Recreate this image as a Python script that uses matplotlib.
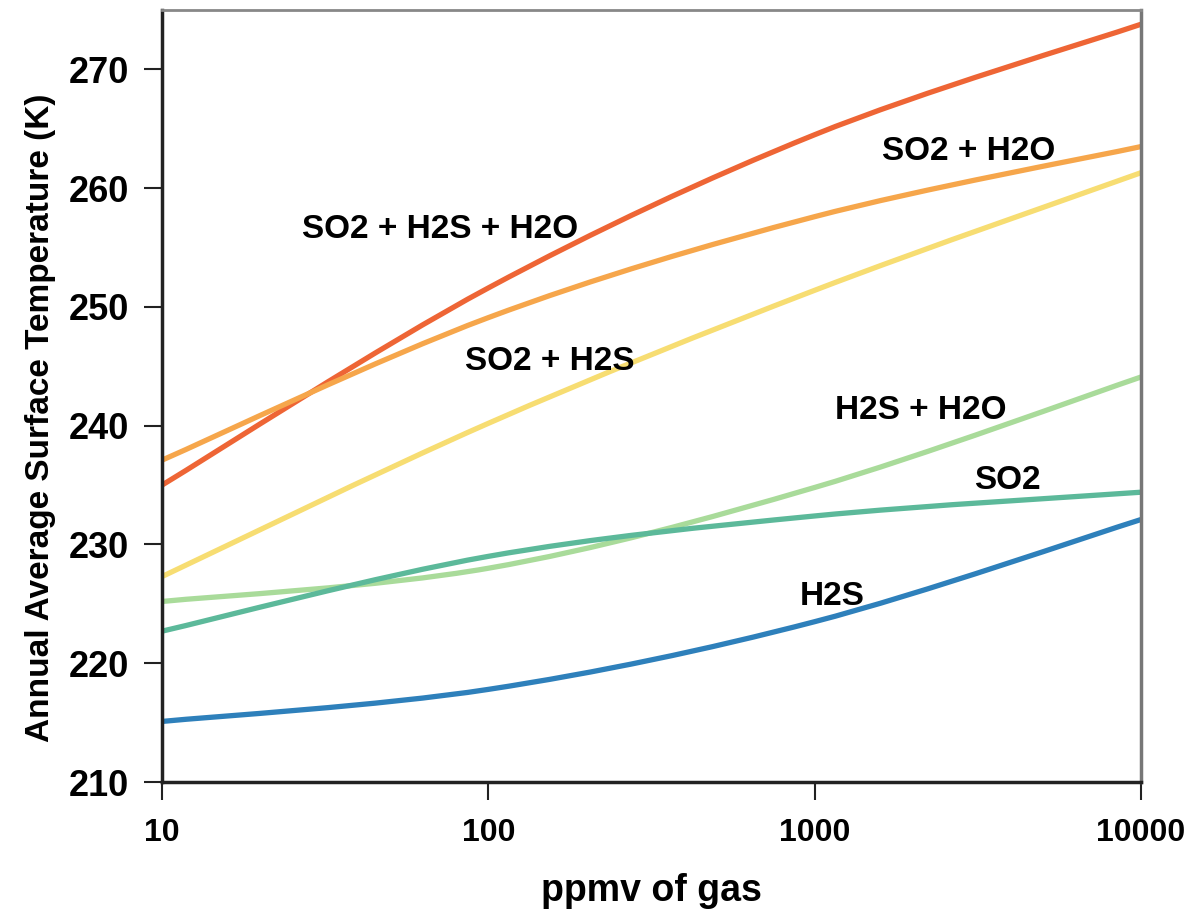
import numpy as np
import matplotlib
matplotlib.use("Agg")
import matplotlib.pyplot as plt
from matplotlib.path import Path
from matplotlib.patches import PathPatch

# datos
ppmv = [10, 100, 1000, 10000]
so2_h2s_h2o = [235.0, 251.6, 264.5, 273.8]
so2_h2o = [237.1, 249.1, 257.6, 263.5]
so2_h2s = [227.3, 240.2, 251.4, 261.3]
h2s_h2o = [225.2, 228.0, 234.8, 244.1]
so2 = [222.7, 229.0, 232.4, 234.4]
h2s = [215.1, 217.8, 223.5, 232.1]

series = [
    (so2_h2s_h2o, "#EE6535"),
    (so2_h2o, "#F6A64B"),
    (so2_h2s, "#F7DD72"),
    (h2s_h2o, "#A9DB9A"),
    (so2, "#5CB99A"),
    (h2s, "#2E80BB"),
]

labels = ["SO2 + H2S + H2O", "SO2 + H2O", "SO2 + H2S", "H2S + H2O", "SO2", "H2S"]
label_x = [71, 2970, 154, 2120, 3890, 1130]
label_y = [256.5, 263.1, 245.4, 241.3, 235.4, 225.6]

plt.rcParams['font.family'] = ['Liberation Sans', 'DejaVu Sans']


def smooth_path(xs, ys):
    # linea suavizada tipo Excel (Catmull-Rom -> Bezier) en espacio log
    lx = np.log10(xs)
    pts = np.column_stack([lx, ys])
    n = len(pts)
    verts = [pts[0]]
    codes = [Path.MOVETO]
    for i in range(n - 1):
        p0 = pts[max(i - 1, 0)]
        p1 = pts[i]
        p2 = pts[i + 1]
        p3 = pts[min(i + 2, n - 1)]
        c1 = p1 + (p2 - p0) / 6.0
        c2 = p2 - (p3 - p1) / 6.0
        verts += [c1, c2, p2]
        codes += [Path.CURVE4] * 3
    verts = np.array(verts)
    verts[:, 0] = 10 ** verts[:, 0]
    return Path(verts, codes)


fig = plt.figure(figsize=(11.95, 9.17), dpi=100)
ax = fig.add_axes([0.1356, 0.1472, 0.8192, 0.8419])
ax.set_xscale('log')

for ys, col in series:
    patch = PathPatch(smooth_path(ppmv, ys), facecolor='none', edgecolor=col,
                      lw=3.8, capstyle='butt')
    ax.add_patch(patch)

for txt, tx, ty in zip(labels, label_x, label_y):
    ax.text(tx, ty, txt, fontsize=24, fontweight='bold', ha='center', va='center')

ax.set_xlim(10, 10000)
ax.set_ylim(210, 275)
ax.set_xticks(ppmv)
ax.set_xticklabels([str(v) for v in ppmv])
ax.minorticks_off()
ax.set_yticks(range(210, 271, 10))

ax.tick_params(axis='both', direction='out', length=13, width=1.5, color='#222222')
ax.tick_params(axis='x', labelsize=23, pad=13)
ax.tick_params(axis='y', labelsize=26, pad=11)
for lab in ax.get_xticklabels() + ax.get_yticklabels():
    lab.set_fontweight('bold')

ax.spines['left'].set_linewidth(2.5)
ax.spines['bottom'].set_linewidth(2.5)
ax.spines['left'].set_color('#222222')
ax.spines['bottom'].set_color('#222222')
ax.spines['top'].set_color('#888888')
ax.spines['right'].set_color('#777777')
ax.spines['top'].set_linewidth(2.0)
ax.spines['right'].set_linewidth(2.5)

ax.set_xlabel('ppmv of gas', fontsize=27, fontweight='bold', labelpad=18)
ax.set_ylabel('Annual Average Surface Temperature (K)', fontsize=24,
              fontweight='bold')
ax.yaxis.set_label_coords(-0.108, 0.472)

plt.savefig('out.png', dpi=100)
